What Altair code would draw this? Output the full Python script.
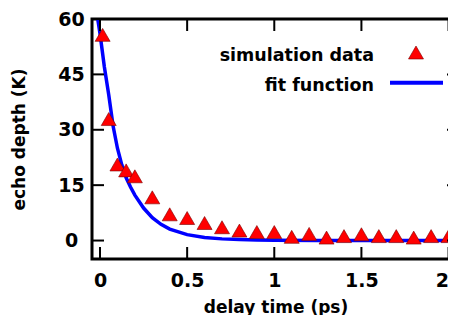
import altair as alt
import pandas as pd

# simulation data (delay time in ps, echo depth in K)
sim_x = [0.015, 0.05, 0.1, 0.15, 0.2, 0.3, 0.4, 0.5, 0.6, 0.7, 0.8, 0.9, 1.0,
         1.1, 1.2, 1.3, 1.4, 1.5, 1.6, 1.7, 1.8, 1.9, 2.0]
sim_y = [55.7, 32.9, 20.6, 19.0, 17.4, 11.7, 7.1, 6.1, 4.75, 3.6, 2.7, 2.3, 2.3,
         1.0, 1.8, 0.8, 1.2, 1.7, 1.2, 1.2, 0.8, 1.2, 1.2]

# fit function
fit_x = [-0.02, -0.013, 0.0, 0.025, 0.05, 0.075, 0.1, 0.125, 0.15, 0.175, 0.2,
         0.25, 0.3, 0.35, 0.4, 0.5, 0.6, 0.7, 0.8, 0.9, 1.0, 1.25, 1.5, 2.06]
fit_y = [63.0, 60.0, 56.0, 47.0, 39.5, 31.0, 25.0, 20.5, 17.0, 14.5, 12.3,
         8.8, 6.2, 4.4, 3.1, 1.6, 0.85, 0.45, 0.25, 0.12, 0.06, 0.02, 0.0, 0.0]

x_ticks = [0, 0.5, 1, 1.5, 2]
y_ticks = [0, 15, 30, 45, 60]
legend_labels = ["simulation data", "fit function"]

W, H = 367, 240
FONT = "DejaVu Sans"
LFS = 19   # tick labels
TFS = 17   # axis titles
GFS = 17.5 # legend text

sim = pd.DataFrame({"x": sim_x, "y": sim_y})
fit = pd.DataFrame({"x": fit_x, "y": fit_y})
xt = pd.DataFrame({"v": x_ticks})
yt = pd.DataFrame({"v": y_ticks})

xscale = alt.Scale(domain=[-0.046, 2.06], nice=False, zero=False)
yscale = alt.Scale(domain=[-5, 60], nice=False, zero=False)

xaxis = alt.Axis(values=x_ticks, ticks=False, domain=False, grid=False,
                 labelFont=FONT, labelFontSize=LFS, labelFontWeight="bold",
                 labelColor="black", labelPadding=12, labelFlush=False,
                 labelAlign={"condition": {"test": "datum.value >= 2", "value": "right"},
                             "value": "center"},
                 labelExpr="datum.value == 0 ? '0' : format(datum.value, '')",
                 title="delay time (ps)", titleFont=FONT, titleFontSize=TFS,
                 titleFontWeight="bold", titleColor="black",
                 titleBaseline="alphabetic", titleY=53)
yaxis = alt.Axis(values=y_ticks, ticks=False, domain=False, grid=False,
                 labelFont=FONT, labelFontSize=LFS, labelFontWeight="bold",
                 labelColor="black", labelPadding=21, labelAlign="center",
                 labelFlush=False,
                 title="echo depth (K)", titleFont=FONT, titleFontSize=TFS,
                 titleFontWeight="bold", titleColor="black",
                 titleBaseline="alphabetic", titleX=-68, titleY=H / 2,
                 titleAngle=270)

line = alt.Chart(fit).mark_line(color="#0000ff", strokeWidth=3.5, clip=True).encode(
    x=alt.X("x:Q", scale=xscale, axis=xaxis),
    y=alt.Y("y:Q", scale=yscale, axis=yaxis),
)

pts = alt.Chart(sim).mark_point(shape="triangle-up", filled=True, size=225,
                                fill="#ff0000", stroke="#7a0000",
                                strokeWidth=0.6, opacity=1, clip=True).encode(
    x="x:Q", y="y:Q"
)

tick_style = dict(color="black", strokeWidth=2)
bt = alt.Chart(xt).mark_rule(**tick_style).encode(
    x="v:Q", y=alt.value(H), y2=alt.value(H - 12))
tt = alt.Chart(xt).mark_rule(**tick_style).encode(
    x="v:Q", y=alt.value(0), y2=alt.value(12))
lt = alt.Chart(yt).mark_rule(**tick_style).encode(
    y="v:Q", x=alt.value(0), x2=alt.value(12))
rt = alt.Chart(yt).mark_rule(**tick_style).encode(
    y="v:Q", x=alt.value(W), x2=alt.value(W - 12))

leg1 = pd.DataFrame({"t": [legend_labels[0]]})
leg2 = pd.DataFrame({"t": [legend_labels[1]]})
lt1 = alt.Chart(leg1).mark_text(align="right", baseline="alphabetic", font=FONT,
                                fontSize=GFS, fontWeight="bold", color="black").encode(
    text="t:N", x=alt.value(282), y=alt.value(41.5))
lt2 = alt.Chart(leg2).mark_text(align="right", baseline="alphabetic", font=FONT,
                                fontSize=GFS, fontWeight="bold", color="black").encode(
    text="t:N", x=alt.value(282), y=alt.value(71.5))
lsym = alt.Chart(leg1).mark_point(shape="triangle-up", filled=True, size=225,
                                  fill="#ff0000", stroke="#7a0000",
                                  strokeWidth=0.6, opacity=1).encode(
    x=alt.value(324), y=alt.value(33.5))
lline = alt.Chart(leg2).mark_rule(color="#0000ff", strokeWidth=4).encode(
    x=alt.value(298), x2=alt.value(351), y=alt.value(63.7))

chart = alt.layer(line, pts, bt, tt, lt, rt, lt1, lt2, lsym, lline).properties(
    width=W, height=H,
    background="white",
    autosize=alt.AutoSizeParams(type="none"),
    padding={"left": 84, "top": 11, "right": -11, "bottom": 56},
).configure_view(stroke="black", strokeWidth=3)

chart.save("out.html", embed_options={"renderer": "svg", "actions": False})
